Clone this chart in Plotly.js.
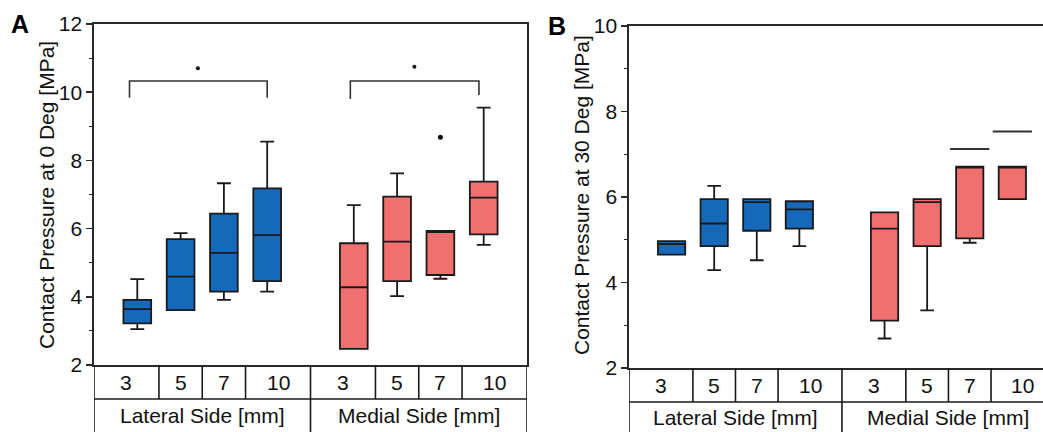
<!DOCTYPE html>
<html>
<head>
<meta charset="utf-8">
<script src="https://cdn.plot.ly/plotly-3.0.1.min.js"></script>
<style>html,body{margin:0;padding:0;background:#fff;}#chart{width:1043px;height:432px;}</style>
</head>
<body>
<div id="chart"></div>
<script>
// ---- categories / tick labels ----
const sizeLabels = ["3", "5", "7", "10"];
const groupLabels = ["Lateral Side [mm]", "Medial Side [mm]"];
const lateralPos = [0, 1, 2, 3];
const medialPos = [5, 6, 7, 8];

// ---- Panel A: 0 Deg ----
const aLatQ1 = [3.22, 3.61, 4.15, 4.46];
const aLatMed = [3.64, 4.59, 5.29, 5.81];
const aLatQ3 = [3.91, 5.69, 6.44, 7.18];
const aLatLo = [3.05, 3.61, 3.91, 4.15];
const aLatHi = [4.52, 5.87, 7.33, 8.55];

const aMedQ1 = [2.47, 4.46, 4.64, 5.83];
const aMedMed = [4.28, 5.62, 5.93, 6.91];
const aMedQ3 = [5.57, 6.94, 5.93, 7.38];
const aMedLo = [2.47, 4.02, 4.53, 5.52];
const aMedHi = [6.69, 7.62, 5.93, 9.55];

const aOutX = [7];
const aOutY = [8.68];

// significance brackets (panel A)
const brLatX = [-0.18, 3.0];
const brMedX = [4.92, 7.89];
const brTopY = 10.33;
const brLatLegY = [9.84, 9.84];
const brMedLegY = [9.8, 9.92];
const sigX = [1.4, 6.4];
const sigY = [10.7, 10.75];

// ---- Panel B: 30 Deg ----
const bLatQ1 = [4.65, 4.85, 5.21, 5.26];
const bLatMed = [4.9, 5.38, 5.88, 5.71];
const bLatQ3 = [4.97, 5.95, 5.95, 5.9];
const bLatLo = [4.65, 4.29, 4.52, 4.85];
const bLatHi = [4.97, 6.26, 5.95, 5.9];

const bMedQ1 = [3.11, 4.85, 5.03, 5.95];
const bMedMed = [5.26, 5.88, 6.71, 6.71];
const bMedQ3 = [5.64, 5.95, 6.71, 6.71];
const bMedLo = [2.69, 3.35, 4.93, 5.95];
const bMedHi = [5.64, 5.95, 6.71, 6.71];

const bCapX = [7, 8];
const bCapY = [7.12, 7.53];

// ---- styles ----
const BLUE = "#1668b8";
const RED = "#f07070";
const LINE = "#1a1a1a";
const AX = "#2a2a2a";
const FONT = "Liberation Sans, Arial, sans-serif";
const FS = 21;

function box(xs, q1, med, q3, lo, hi, color, xa, ya) {
  return {
    type: "box", x: xs, q1: q1, median: med, q3: q3,
    lowerfence: lo, upperfence: hi,
    boxpoints: false, width: 0.64, whiskerwidth: 0.5,
    fillcolor: color, line: {color: LINE, width: 1.8},
    xaxis: xa, yaxis: ya, showlegend: false, hoverinfo: "skip"
  };
}

const traces = [
  box(lateralPos, aLatQ1, aLatMed, aLatQ3, aLatLo, aLatHi, BLUE, "x", "y"),
  box(medialPos, aMedQ1, aMedMed, aMedQ3, aMedLo, aMedHi, RED, "x", "y"),
  {type: "scatter", mode: "markers", x: aOutX, y: aOutY, xaxis: "x", yaxis: "y",
   marker: {color: "#111", size: 5}, showlegend: false, hoverinfo: "skip"},
  {type: "scatter", mode: "markers", x: sigX, y: sigY, xaxis: "x", yaxis: "y",
   marker: {color: "#111", size: 4}, showlegend: false, hoverinfo: "skip"},
  box(lateralPos, bLatQ1, bLatMed, bLatQ3, bLatLo, bLatHi, BLUE, "x2", "y2"),
  box(medialPos, bMedQ1, bMedMed, bMedQ3, bMedLo, bMedHi, RED, "x2", "y2"),
  {type: "scatter", mode: "markers", x: bCapX, y: bCapY, xaxis: "x2", yaxis: "y2",
   marker: {symbol: "line-ew-open", size: 28, color: "#333", line: {color: "#333", width: 2}},
   showlegend: false, hoverinfo: "skip"}
];

// geometry (paper)
const A = {x0: 94/1043, x1: 527/1043, yb: 1 - 365/432, yt: 1 - 24/432, row: 1 - 399/432};
const B = {x0: 629/1043, x1: 1.0, yb: 1 - 368/432, yt: 1 - 26/432, row: 1 - 402/432};

const shapes = [];
const annotations = [];
function table(xref, P, hasRight) {
  const ln = {color: LINE, width: 1.6};
  shapes.push({type: "line", xref: xref, yref: "paper", x0: -1, x1: 9, y0: P.row, y1: P.row, line: ln});
  [0.5, 1.5, 2.5, 5.5, 6.5, 7.5].forEach(v => shapes.push({type: "line", xref: xref, yref: "paper", x0: v, x1: v, y0: P.row, y1: P.yb, line: ln}));
  const full = hasRight ? [-1, 4, 9] : [-1, 4];
  full.forEach(v => shapes.push({type: "line", xref: xref, yref: "paper", x0: v, x1: v, y0: 0, y1: P.yb, line: ln}));
  const labX = [-0.25, 1, 2, 3.25, 4.75, 6, 7, 8.25];
  const labs = sizeLabels.concat(sizeLabels);
  labX.forEach((v, i) => annotations.push({xref: xref, yref: "paper", x: v, y: (P.row + P.yb) / 2, text: labs[i], showarrow: false, font: {family: FONT, size: FS, color: "#111"}, xanchor: "center", yanchor: "middle"}));
  [1.5, 6.5].forEach((v, i) => annotations.push({xref: xref, yref: "paper", x: v, y: P.row / 2, text: groupLabels[i], showarrow: false, font: {family: FONT, size: FS, color: "#111"}, xanchor: "center", yanchor: "middle"}));
}
table("x", A, true);
table("x2", B, false);

// brackets
const brLn = {color: "#333", width: 1.6};
shapes.push({type: "path", xref: "x", yref: "y", line: brLn,
  path: `M ${brLatX[0]},${brLatLegY[0]} L ${brLatX[0]},${brTopY} L ${brLatX[1]},${brTopY} L ${brLatX[1]},${brLatLegY[1]}`});
shapes.push({type: "path", xref: "x", yref: "y", line: brLn,
  path: `M ${brMedX[0]},${brMedLegY[0]} L ${brMedX[0]},${brTopY} L ${brMedX[1]},${brTopY} L ${brMedX[1]},${brMedLegY[1]}`});

// panel letters
annotations.push({xref: "paper", yref: "paper", x: 9/1043, y: 1 - 24/432, text: "<b>A</b>", showarrow: false, xanchor: "left", yanchor: "middle", font: {family: FONT, size: 25, color: "#000"}});
annotations.push({xref: "paper", yref: "paper", x: 546/1043, y: 1 - 26/432, text: "<b>B</b>", showarrow: false, xanchor: "left", yanchor: "middle", font: {family: FONT, size: 25, color: "#000"}});

// y titles
annotations.push({xref: "paper", yref: "paper", x: 47/1043, y: 1 - 195/432, text: "Contact Pressure at 0 Deg [MPa]", textangle: -90, showarrow: false, xanchor: "center", yanchor: "middle", font: {family: FONT, size: FS, color: "#111"}});
annotations.push({xref: "paper", yref: "paper", x: 582/1043, y: 1 - 195/432, text: "Contact Pressure at 30 Deg [MPa]", textangle: -90, showarrow: false, xanchor: "center", yanchor: "middle", font: {family: FONT, size: FS, color: "#111"}});

const yCommon = {
  showline: true, linecolor: AX, linewidth: 1.6, ticks: "outside", ticklen: 6, tickwidth: 1.5, tickcolor: AX,
  showgrid: false, zeroline: false, dtick: 2,
  tickfont: {family: FONT, size: FS, color: "#111"},
  minor: {ticks: "outside", ticklen: 3, tickwidth: 1.2, tickcolor: AX, dtick: 1, showgrid: false}
};
const xCommon = {showline: true, linecolor: AX, linewidth: 1.6, ticks: "", showticklabels: false, showgrid: false, zeroline: false, fixedrange: true};

const layout = {
  width: 1043, height: 432,
  margin: {l: 0, r: 0, t: 0, b: 0},
  paper_bgcolor: "#fff", plot_bgcolor: "#fff",
  showlegend: false,
  xaxis: Object.assign({}, xCommon, {domain: [A.x0, A.x1], range: [-1, 9], mirror: true, anchor: "y"}),
  yaxis: Object.assign({}, yCommon, {domain: [A.yb, A.yt], range: [2, 12], mirror: true, anchor: "x"}),
  xaxis2: Object.assign({}, xCommon, {domain: [B.x0, B.x1], range: [-1, 8.72], mirror: true, anchor: "y2"}),
  yaxis2: Object.assign({}, yCommon, {domain: [B.yb, B.yt], range: [2, 10], mirror: false, anchor: "x2"}),
  shapes: shapes,
  annotations: annotations
};

Plotly.newPlot("chart", traces, layout, {staticPlot: true, displayModeBar: false});
</script>
</body>
</html>
